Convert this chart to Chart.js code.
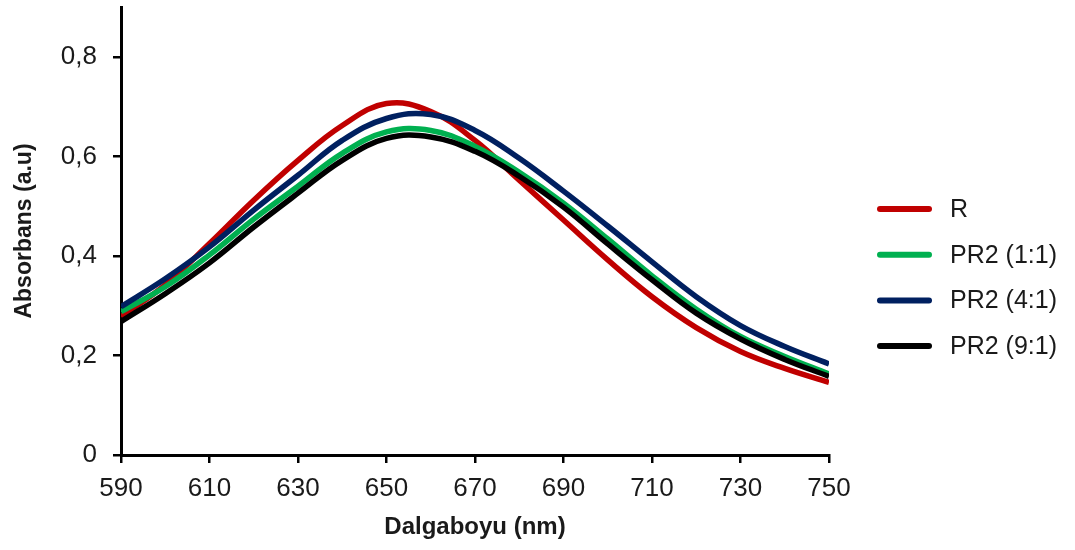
<!DOCTYPE html>
<html>
<head>
<meta charset="utf-8">
<script src="https://cdn.jsdelivr.net/npm/chart.js@4"></script>
<style>
  html, body { margin: 0; padding: 0; background: #fff; }
  #wrap { width: 1075px; height: 550px; }
</style>
</head>
<body>
<div id="wrap"><canvas id="absChart" width="1075" height="550"></canvas></div>
<script>
// Wavelengths (nm) and absorbance
const wavelengths = [590, 600, 610, 620, 630, 640, 650, 660, 670, 680, 690, 700, 710, 720, 730, 740, 750];
const seriesR   = [0.278, 0.342, 0.425, 0.512, 0.592, 0.662, 0.706, 0.690, 0.632, 0.552, 0.472, 0.392, 0.318, 0.256, 0.208, 0.174, 0.146];
const series11  = [0.288, 0.338, 0.402, 0.474, 0.540, 0.606, 0.649, 0.652, 0.620, 0.568, 0.506, 0.434, 0.360, 0.293, 0.238, 0.198, 0.163];
const series41  = [0.298, 0.354, 0.418, 0.492, 0.562, 0.632, 0.676, 0.684, 0.652, 0.596, 0.530, 0.460, 0.388, 0.318, 0.260, 0.218, 0.183];
const series91  = [0.268, 0.324, 0.386, 0.458, 0.526, 0.592, 0.636, 0.639, 0.610, 0.560, 0.498, 0.424, 0.352, 0.285, 0.233, 0.192, 0.158];
const seriesLabels = ['R', 'PR2 (1:1)', 'PR2 (4:1)', 'PR2 (9:1)'];
const seriesColors = ['#c00000', '#00b050', '#002060', '#000000'];
const yTicks = [0, 0.2, 0.4, 0.6, 0.8];

const FONT = "'Liberation Sans', Arial, sans-serif";

function toPoints(values) {
    return wavelengths.map((w, i) => ({ x: w, y: values[i] }));
}

// simple legend drawn to the right of the plot
const sideLegend = {
    id: 'sideLegend',
    afterDraw(chart) {
        const ctx = chart.ctx;
        ctx.save();
        chart.data.datasets.forEach((ds, i) => {
            const y = 209 + i * 45.7;
            ctx.strokeStyle = ds.borderColor;
            ctx.lineWidth = 6;
            ctx.lineCap = 'round';
            ctx.beginPath();
            ctx.moveTo(880, y);
            ctx.lineTo(929, y);
            ctx.stroke();
            ctx.fillStyle = '#1a1a1a';
            ctx.font = '25px ' + FONT;
            ctx.textBaseline = 'middle';
            ctx.textAlign = 'left';
            ctx.fillText(ds.label, 950, y + 1);
        });
        ctx.restore();
    }
};

const allSeries = [seriesR, series11, series41, series91];
const drawOrder = [4, 3, 2, 1];

const ctx = document.getElementById('absChart').getContext('2d');
new Chart(ctx, {
    type: 'line',
    data: {
        datasets: allSeries.map((s, i) => ({
            label: seriesLabels[i],
            data: toPoints(s),
            borderColor: seriesColors[i],
            backgroundColor: seriesColors[i],
            borderWidth: 5.5,
            pointRadius: 0,
            tension: 0.4,
            order: drawOrder[i]
        }))
    },
    options: {
        responsive: false,
        animation: false,
        layout: {
            padding: { top: 7, right: 246, bottom: 0, left: 0 }
        },
        scales: {
            x: {
                type: 'linear',
                min: 590,
                max: 750,
                afterFit: s => { s.height = 95; },
                ticks: {
                    stepSize: 20,
                    color: '#1a1a1a',
                    padding: 10,
                    maxRotation: 0,
                    font: { family: FONT, size: 26 }
                },
                grid: { drawOnChartArea: false, drawTicks: true, tickLength: 8, color: '#000', lineWidth: 2.5 },
                border: { color: '#000', width: 3 },
                title: {
                    display: true,
                    text: 'Dalgaboyu (nm)',
                    color: '#1a1a1a',
                    font: { family: FONT, size: 24, weight: 'bold' },
                    padding: { top: 0, bottom: 8 }
                }
            },
            y: {
                min: 0,
                max: 0.9,
                afterBuildTicks: axis => {
                    axis.ticks = yTicks.map(v => ({ value: v }));
                },
                afterFit: s => {
                    s.width = 121;
                    s.paddingTop = 0;
                    s.paddingBottom = 0;
                },
                ticks: {
                    color: '#1a1a1a',
                    padding: 16,
                    font: { family: FONT, size: 26 },
                    callback: v => v === 0 ? '0' : v.toFixed(1).replace('.', ',')
                },
                grid: { drawOnChartArea: false, drawTicks: true, tickLength: 8, color: '#000', lineWidth: 2.5 },
                border: { color: '#000', width: 3 },
                title: {
                    display: true,
                    text: 'Absorbans (a.u)',
                    color: '#1a1a1a',
                    font: { family: FONT, size: 23, weight: 'bold' },
                    padding: { top: 11, bottom: 0 }
                }
            }
        },
        plugins: {
            legend: { display: false },
            tooltip: { enabled: false }
        }
    },
    plugins: [sideLegend]
});
</script>
</body>
</html>
